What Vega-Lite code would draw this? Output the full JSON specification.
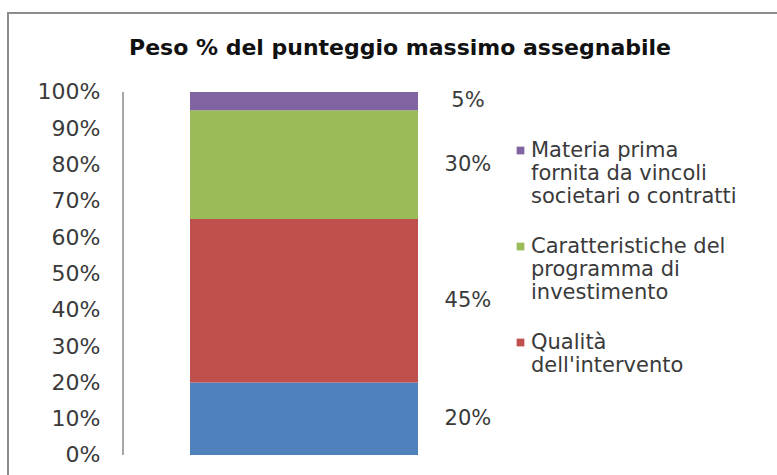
{
  "$schema": "https://vega.github.io/schema/vega-lite/v6.json",
  "autosize": {"type": "none"},
  "padding": {"left": 8, "top": 13, "right": 0, "bottom": 0},
  "width": 784,
  "height": 470,
  "background": "white",
  "config": {
    "view": {"stroke": "#8c8c8c", "strokeWidth": 2},
    "font": "DejaVu Sans"
  },
  "title": {
    "text": "Peso % del punteggio massimo assegnabile",
    "font": "DejaVu Sans",
    "fontSize": 22,
    "fontWeight": "bold",
    "color": "#111111",
    "anchor": "middle",
    "frame": "group",
    "baseline": "alphabetic",
    "offset": -64
  },
  "data": {
    "values": [
      {"cat": "Peso", "serie": "Altro", "valore": 0.20, "ordine": 1},
      {"cat": "Peso", "serie": "Qualità dell'intervento", "valore": 0.45, "ordine": 2},
      {"cat": "Peso", "serie": "Caratteristiche del programma di investimento", "valore": 0.30, "ordine": 3},
      {"cat": "Peso", "serie": "Materia prima fornita da vincoli societari o contratti", "valore": 0.05, "ordine": 4}
    ]
  },
  "layer": [
    {
      "mark": {"type": "bar"},
      "encoding": {
        "x": {
          "field": "cat", "type": "nominal", "axis": null,
          "scale": {"paddingInner": 0.1799, "paddingOuter": 1, "align": 0.32734}
        },
        "y": {
          "field": "valore", "type": "quantitative", "stack": "zero",
          "scale": {"domain": [-0.07714, 1.21763], "nice": false, "zero": false},
          "axis": {
            "orient": "left",
            "offset": -115,
            "values": [0, 0.1, 0.2, 0.3, 0.4, 0.5, 0.6, 0.7, 0.8, 0.9, 1],
            "format": ".0%",
            "domain": false,
            "ticks": false,
            "grid": false,
            "title": null,
            "labelPadding": 23,
            "labelFont": "DejaVu Sans",
            "labelFontSize": 22,
            "labelColor": "#3a3a3a"
          }
        },
        "color": {
          "field": "serie", "type": "nominal",
          "scale": {
            "domain": ["Altro", "Qualità dell'intervento", "Caratteristiche del programma di investimento", "Materia prima fornita da vincoli societari o contratti"],
            "range": ["#4F81BD", "#C0504D", "#9BBB59", "#8064A2"]
          },
          "legend": {
            "orient": "none",
            "legendX": 502,
            "legendY": 127,
            "title": null,
            "values": ["Materia prima fornita da vincoli societari o contratti", "Caratteristiche del programma di investimento", "Qualità dell'intervento"],
            "symbolType": "square",
            "symbolSize": 60,
            "symbolStrokeWidth": 0,
            "labelFont": "DejaVu Sans",
            "labelFontSize": 21,
            "labelColor": "#3a3a3a",
            "labelLimit": 400,
            "labelOffset": 0,
            "rowPadding": 28,
            "padding": 0,
            "labelExpr": "datum.label == 'Materia prima fornita da vincoli societari o contratti' ? ['Materia prima', 'fornita da vincoli', 'societari o contratti'] : datum.label == 'Caratteristiche del programma di investimento' ? ['Caratteristiche del', 'programma di', 'investimento'] : ['Qualità', \"dell'intervento\"]"
          }
        },
        "order": {"field": "ordine", "type": "quantitative", "sort": "ascending"}
      }
    },
    {
      "mark": {"type": "rule", "color": "#a6a6a6", "strokeWidth": 1.5},
      "encoding": {
        "x": {"datum": "Peso", "type": "nominal", "bandPosition": -0.2939},
        "y": {"datum": 0, "type": "quantitative"},
        "y2": {"datum": 1}
      }
    },
    {
      "transform": [
        {"stack": "valore", "groupby": ["cat"], "sort": [{"field": "ordine"}], "as": ["y0", "y1"]},
        {"fold": ["y0", "y1"], "as": ["estremo", "pos"]},
        {"aggregate": [{"op": "mean", "field": "pos", "as": "centro"}], "groupby": ["cat", "serie", "valore"]}
      ],
      "mark": {"type": "text", "align": "center", "baseline": "middle", "font": "DejaVu Sans", "fontSize": 21, "color": "#3a3a3a"},
      "encoding": {
        "x": {"field": "cat", "type": "nominal", "bandPosition": 1.219},
        "y": {"field": "centro", "type": "quantitative"},
        "text": {"field": "valore", "type": "quantitative", "format": ".0%"}
      }
    }
  ]
}
